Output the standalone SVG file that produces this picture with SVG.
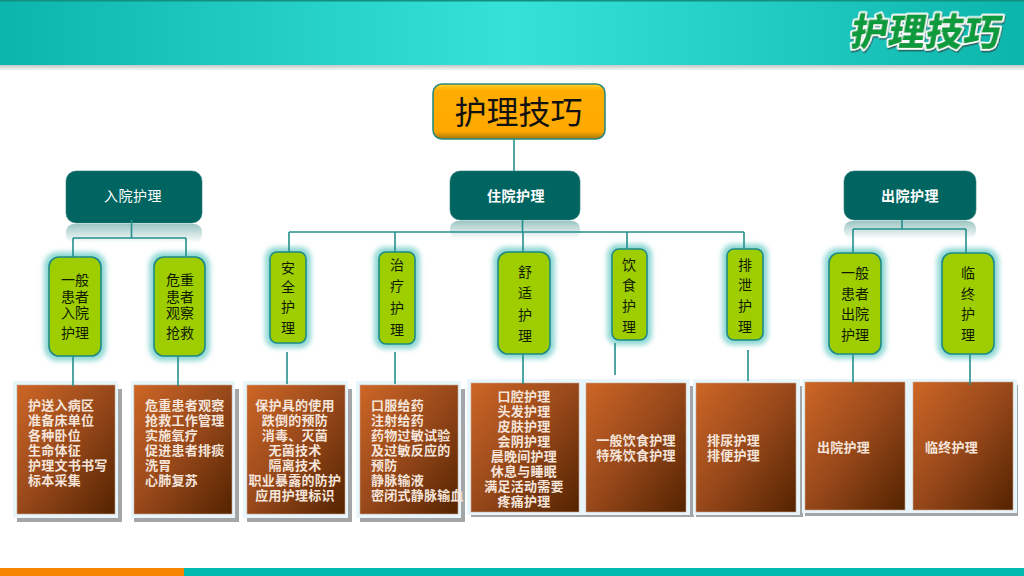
<svg xmlns="http://www.w3.org/2000/svg" width="1024" height="576" viewBox="0 0 1024 576">
<style>
text{font-family:"Liberation Sans","Noto Sans CJK SC","Noto Sans CJK TC",sans-serif}
.halo{fill:#e8f6fc}
.shadow{fill:#a3a5a7}
.box{fill:url(#boxG);stroke:#c9a58e;stroke-width:.6}
.bt{font-size:13px;font-weight:700;fill:#f4e4da;letter-spacing:.25px}
.mid{text-anchor:middle}
.g{fill:#9fce00;stroke:#1d8a86;stroke-width:1.6}
.gl{fill:#8ed8d4;filter:url(#glow)}
.gt{font-size:14px;fill:#0f1a00;text-anchor:middle}
.t{fill:#006560;stroke:#2a7d79;stroke-width:.6}
.ref{fill:url(#refG)}
.tt{font-size:14px;fill:#fff;text-anchor:middle;letter-spacing:.5px}
.c{fill:none;stroke:#23908c;stroke-width:1.6}
</style>
<defs>
<linearGradient id="band" x1="0" x2="1" y1="0" y2="0"><stop offset="0" stop-color="#0cb5ab"/><stop offset=".5" stop-color="#36e2d8"/><stop offset="1" stop-color="#0cb5ab"/></linearGradient>
<linearGradient id="bandS" x1="0" x2="0" y1="0" y2="1"><stop offset="0" stop-color="#c4c8c8"/><stop offset="1" stop-color="#fff"/></linearGradient>
<linearGradient id="boxG" x1="0" y1="0" x2="1" y2="1"><stop offset="0" stop-color="#cd6626"/><stop offset=".5" stop-color="#97481a"/><stop offset="1" stop-color="#532300"/></linearGradient>
<linearGradient id="refG" x1="0" x2="0" y1="0" y2="1"><stop offset="0" stop-color="#9cc6c3"/><stop offset="1" stop-color="#fff"/></linearGradient>
<linearGradient id="rootG" x1="0" x2="0" y1="0" y2="1"><stop offset="0" stop-color="#ffd02a"/><stop offset=".12" stop-color="#ffad02"/><stop offset=".86" stop-color="#ffa900"/><stop offset="1" stop-color="#a8760c"/></linearGradient>
<filter id="glow" x="-40%" y="-30%" width="180%" height="160%"><feGaussianBlur stdDeviation="2.4"/></filter>
<filter id="ds" x="-5%" y="-20%" width="110%" height="150%"><feDropShadow dx="1" dy="1.5" stdDeviation=".6" flood-color="#333" flood-opacity=".7"/></filter>
</defs>

<g id="header">
<rect x="0" y="65" width="1024" height="6" fill="url(#bandS)"/>
<rect x="0" y="0" width="1024" height="65" fill="url(#band)"/>
<rect x="0" y="0" width="1024" height="1.5" fill="#128f80"/>
<text transform="translate(849 45) skewX(-10)" font-size="37" font-weight="900" fill="#0d9a3e" stroke="#fff" stroke-width="3.4" paint-order="stroke" stroke-linejoin="round" textLength="150" filter="url(#ds)">护理技巧</text>
</g>
<g id="footer">
<rect x="0" y="568" width="184" height="8" fill="#f78500"/>
<rect x="184" y="568" width="840" height="8" fill="#00bab0"/>
</g>

<g id="root">
<rect x="433" y="84" width="172" height="55" rx="9" fill="url(#rootG)" stroke="#2a8a80" stroke-width="1.6"/>
<text x="518.500" y="124" font-size="32" fill="#111" text-anchor="middle">护理技巧</text>
</g>

<g id="adm">
<rect class="ref" x="66" y="224" width="136" height="19" rx="8"/>
<rect class="t" x="66" y="171" width="136" height="52" rx="10"/>
<text class="tt" x="133" y="201">入院护理</text>
</g>
<g id="stay">
<rect class="ref" x="450" y="221" width="130" height="18" rx="8"/>
<rect class="t" x="450" y="171" width="130" height="49" rx="10"/>
<text class="tt" x="516" y="201" font-weight="700">住院护理</text>
</g>
<g id="dis">
<rect class="ref" x="844" y="221" width="132" height="18" rx="8"/>
<rect class="t" x="844" y="171" width="132" height="49" rx="10"/>
<text class="tt" x="910" y="201" font-weight="700">出院护理</text>
</g>

<g id="n1"><rect class="gl" x="44" y="252" width="62" height="109" rx="14"/><rect class="g" x="49" y="257" width="52" height="99" rx="10"/>
<text class="gt" y="285"><tspan x="75">一般</tspan><tspan x="75" dy="16.500">患者</tspan><tspan x="75" dy="16.500">入院</tspan><tspan x="75" dy="20">护理</tspan></text></g>
<g id="n2"><rect class="gl" x="149" y="252" width="61" height="109" rx="14"/><rect class="g" x="154" y="257" width="51" height="99" rx="10"/>
<text class="gt" y="285"><tspan x="180">危重</tspan><tspan x="180" dy="16.500">患者</tspan><tspan x="180" dy="16.500">观察</tspan><tspan x="180" dy="20">抢救</tspan></text></g>
<g id="n3"><rect class="gl" x="265" y="247" width="46" height="101" rx="11"/><rect class="g" x="270" y="252" width="36" height="91" rx="7"/>
<text class="gt" y="273"><tspan x="288">安</tspan><tspan x="288" dy="19">全</tspan><tspan x="288" dy="20">护</tspan><tspan x="288" dy="21">理</tspan></text></g>
<g id="n4"><rect class="gl" x="374" y="247" width="46" height="102" rx="11"/><rect class="g" x="379" y="252" width="36" height="92" rx="7"/>
<text class="gt" y="270"><tspan x="397">治</tspan><tspan x="397" dy="21">疗</tspan><tspan x="397" dy="22">护</tspan><tspan x="397" dy="22">理</tspan></text></g>
<g id="n5"><rect class="gl" x="493" y="247" width="62" height="112" rx="14"/><rect class="g" x="498" y="252" width="52" height="102" rx="10"/>
<text class="gt" y="277"><tspan x="525">舒</tspan><tspan x="525" dy="21">适</tspan><tspan x="525" dy="22">护</tspan><tspan x="525" dy="21">理</tspan></text></g>
<g id="n6"><rect class="gl" x="607" y="244" width="45" height="101" rx="11"/><rect class="g" x="612" y="249" width="35" height="91" rx="7"/>
<text class="gt" y="270"><tspan x="629">饮</tspan><tspan x="629" dy="20">食</tspan><tspan x="629" dy="21">护</tspan><tspan x="629" dy="21">理</tspan></text></g>
<g id="n7"><rect class="gl" x="722" y="244" width="46" height="101" rx="11"/><rect class="g" x="727" y="249" width="36" height="91" rx="7"/>
<text class="gt" y="270"><tspan x="745">排</tspan><tspan x="745" dy="20">泄</tspan><tspan x="745" dy="21">护</tspan><tspan x="745" dy="21">理</tspan></text></g>
<g id="n8"><rect class="gl" x="824" y="248" width="62" height="111" rx="14"/><rect class="g" x="829" y="253" width="52" height="101" rx="10"/>
<text class="gt" y="278"><tspan x="855">一般</tspan><tspan x="855" dy="21">患者</tspan><tspan x="855" dy="20">出院</tspan><tspan x="855" dy="21">护理</tspan></text></g>
<g id="n9"><rect class="gl" x="937" y="248" width="62" height="111" rx="14"/><rect class="g" x="942" y="253" width="52" height="101" rx="10"/>
<text class="gt" y="278"><tspan x="968">临</tspan><tspan x="968" dy="21">终</tspan><tspan x="968" dy="20">护</tspan><tspan x="968" dy="21">理</tspan></text></g>

<g id="b1"><rect class="shadow" x="17" y="389" width="105" height="133"/><rect class="halo" x="13" y="381" width="105" height="137"/><rect class="box" x="17" y="385" width="98" height="129"/>
<text class="bt" y="410"><tspan x="28">护送入病区</tspan><tspan x="28" dy="15">准备床单位</tspan><tspan x="28" dy="15">各种卧位</tspan><tspan x="28" dy="15">生命体征</tspan><tspan x="28" dy="15">护理文书书写</tspan><tspan x="28" dy="15">标本采集</tspan></text></g>
<g id="b2"><rect class="shadow" x="134" y="389" width="105" height="133"/><rect class="halo" x="131" y="381" width="104" height="137"/><rect class="box" x="134" y="385" width="98" height="129"/>
<text class="bt" y="410"><tspan x="145">危重患者观察</tspan><tspan x="145" dy="15">抢救工作管理</tspan><tspan x="145" dy="15">实施氧疗</tspan><tspan x="145" dy="15">促进患者排痰</tspan><tspan x="145" dy="15">洗胃</tspan><tspan x="145" dy="15">心肺复苏</tspan></text></g>
<g id="b3"><rect class="shadow" x="247" y="389" width="105" height="133"/><rect class="halo" x="243" y="381" width="105" height="137"/><rect class="box" x="247" y="385" width="98" height="129"/>
<text class="bt mid" y="410"><tspan x="295">保护具的使用</tspan><tspan x="295" dy="15">跌倒的预防</tspan><tspan x="295" dy="15">消毒、灭菌</tspan><tspan x="295" dy="15">无菌技术</tspan><tspan x="295" dy="15">隔离技术</tspan><tspan x="295" dy="15">职业暴露的防护</tspan><tspan x="295" dy="15">应用护理标识</tspan></text></g>
<g id="b4"><rect class="shadow" x="360" y="389" width="105" height="133"/><rect class="halo" x="356" y="381" width="105" height="137"/><rect class="box" x="360" y="385" width="98" height="129"/>
<text class="bt" y="410"><tspan x="371">口服给药</tspan><tspan x="371" dy="15">注射给药</tspan><tspan x="371" dy="15">药物过敏试验</tspan><tspan x="371" dy="15">及过敏反应的</tspan><tspan x="371" dy="15">预防</tspan><tspan x="371" dy="15">静脉输液</tspan><tspan x="371" dy="15">密闭式静脉输血</tspan></text></g>
<g id="b5"><rect class="shadow" x="471" y="386" width="116" height="131"/><rect class="halo" x="467" y="379" width="116" height="136"/><rect class="box" x="471" y="383" width="108" height="129"/>
<text class="bt mid" y="401"><tspan x="524">口腔护理</tspan><tspan x="524" dy="15">头发护理</tspan><tspan x="524" dy="15">皮肤护理</tspan><tspan x="524" dy="15">会阴护理</tspan><tspan x="524" dy="15">晨晚间护理</tspan><tspan x="524" dy="15">休息与睡眠</tspan><tspan x="524" dy="15">满足活动需要</tspan><tspan x="524" dy="15">疼痛护理</tspan></text></g>
<g id="b6"><rect class="shadow" x="587" y="386" width="107" height="131"/><rect class="halo" x="583" y="379" width="107" height="136"/><rect class="box" x="586" y="383" width="100" height="129"/>
<text class="bt mid" y="445"><tspan x="636">一般饮食护理</tspan><tspan x="636" dy="15">特殊饮食护理</tspan></text></g>
<g id="b7"><rect class="shadow" x="696" y="386" width="107" height="131"/><rect class="halo" x="693" y="379" width="107" height="136"/><rect class="box" x="696" y="383" width="100" height="129"/>
<text class="bt" y="445"><tspan x="707">排尿护理</tspan><tspan x="707" dy="15">排便护理</tspan></text></g>
<g id="b8"><rect class="shadow" x="805" y="385" width="108" height="131"/><rect class="halo" x="802" y="379" width="108" height="134"/><rect class="box" x="805" y="382" width="100" height="128"/>
<text class="bt" x="817" y="452">出院护理</text></g>
<g id="b9"><rect class="shadow" x="913" y="385" width="105" height="131"/><rect class="halo" x="910" y="379" width="107" height="134"/><rect class="box" x="913" y="382" width="100" height="128"/>
<text class="bt" x="925" y="452">临终护理</text></g>

<g id="connectors">
<path class="c" d="M514 139V171"/>
<path class="c" d="M131.500 220V238M73 238H186M73 238V257M186 238V257M73 356V386M178 356V386"/>
<path class="c" d="M522.500 220V232M289 232H744M289 232V252M395 232V252M523 232V252M627 232V249M744 232V249"/>
<path class="c" d="M287 352V384M395 352V384M523 354V384M615 343V375M748 350V381"/>
<path class="c" d="M902 220V229M853 229H966M853 229V253M966 229V253M853 354V383M970 354V385"/>
</g>
</svg>
